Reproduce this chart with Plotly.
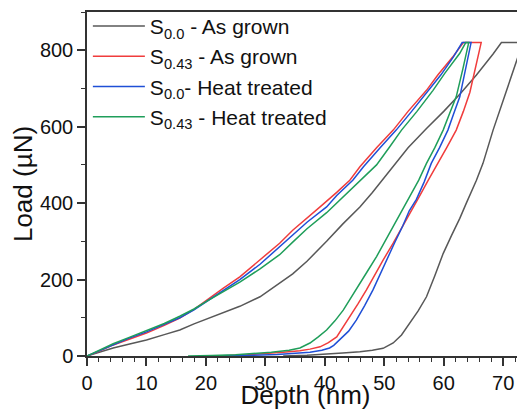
import plotly.graph_objects as go

# ---------------- data ----------------
names = [
    "S<sub>0.0</sub> - As grown",
    "S<sub>0.43</sub> - As grown",
    "S<sub>0.0</sub>- Heat treated",
    "S<sub>0.43</sub> - Heat treated",
]
colors = ["#585858", "#f03c3c", "#1f4fd6", "#1f9e5a"]

# S0.0 - As grown
g_depth_load = [0, 2, 4.4, 7, 10, 13, 15.6, 18, 21.2, 23.5, 25.7, 29.1, 32.4, 34.6, 37, 38.6,
                40.3, 43, 45.9, 48, 51.5, 54, 57.1, 60, 62.7, 65.5, 68.3, 69.7]
g_load_load = [0, 10, 21, 31, 42, 56, 68, 84, 103, 116, 130, 155, 190, 215, 248, 272,
               300, 345, 390, 428, 495, 545, 595, 640, 685, 735, 790, 820]
g_depth_unload = [73.3, 71, 68.3, 66.6, 65.5, 63.8, 62.7, 61.3, 59.9, 58.5, 57.1, 55.7, 54.3,
                  52.9, 51.5, 50.5, 49.8, 48, 45.9, 43, 40.3, 37, 33]
g_load_unload = [820, 715, 591, 504, 460, 400, 360, 315, 268, 210, 155, 118, 85,
                 55, 34, 25, 20, 15, 11, 8, 5, 2, 0]

# S0.43 - As grown
r_depth_load = [0, 2, 4.4, 7, 10, 13, 15.6, 18, 20.1, 23, 25.7, 29.1, 32.4, 34.6, 37, 39.2,
                42, 44.2, 45.9, 48.7, 51.5, 54, 57.1, 59, 61.5, 63.3]
r_load_load = [0, 12, 29, 44, 60, 80, 99, 122, 146, 178, 207, 251, 295, 329, 360, 390,
               428, 460, 495, 545, 591, 640, 695, 735, 782, 820]
r_depth_unload = [66.3, 65.4, 64.4, 63.3, 62.1, 60.5, 58.8, 57.4, 56, 54.6, 53.1, 51.5, 49.8,
                  48.4, 47, 45.6, 44.2, 43, 42, 40.6, 39.2, 37.5, 35.8, 33, 30, 27, 24, 20]
r_load_unload = [820, 755, 690, 640, 591, 545, 500, 460, 420, 380, 340, 295, 251,
                 210, 173, 137, 103, 75, 50, 35, 24, 18, 14, 10, 6, 3, 1, 0]

# S0.0 - Heat treated
b_depth_load = [0, 2, 4.4, 7, 10, 13, 15.6, 18, 20.1, 23, 25.7, 29.1, 32.4, 34.6, 37, 40.3,
                42, 44.7, 46.5, 49.3, 52, 54.6, 57.5, 59.5, 61.6, 63.1]
b_load_load = [0, 13, 30, 46, 63, 82, 100, 121, 143, 172, 200, 240, 285, 316, 350, 390,
               420, 460, 495, 545, 591, 640, 695, 735, 782, 820]
b_depth_unload = [64.6, 63.6, 62.7, 61.7, 60.7, 59.3, 57.9, 56.7, 55.4, 54.2, 53.1, 51.7, 50.4,
                  49.3, 48.1, 46.7, 45.3, 44, 42.5, 41.5, 40.8, 39.5, 37.5, 35, 32, 28, 24, 20]
b_load_unload = [820, 745, 678, 635, 591, 545, 504, 455, 410, 380, 340, 295, 251,
                 210, 173, 132, 94, 65, 42, 28, 21, 15, 10, 7, 4, 2, 1, 0]

# S0.43 - Heat treated
n_depth_load = [0, 2, 4.4, 7, 10, 13, 15.6, 18, 20.1, 23, 25.7, 29.1, 32.4, 34.6, 37, 40.3,
                43, 45.9, 48.7, 50.8, 52.9, 55.5, 58.2, 60.2, 62.7, 63.7]
n_load_load = [0, 14, 32, 48, 66, 85, 104, 123, 143, 168, 193, 228, 265, 298, 333, 375,
               415, 456, 500, 545, 591, 640, 695, 740, 792, 820]
n_depth_unload = [64.2, 63.2, 62.1, 61, 59.9, 58.5, 57.1, 55.8, 54.4, 53.1, 51.5, 50.1, 48.7,
                  47.3, 45.9, 44.5, 43.1, 41.7, 40.3, 38.9, 37.5, 35.8, 34, 31, 28, 25, 21, 17]
n_load_unload = [820, 750, 678, 635, 591, 545, 504, 460, 420, 382, 340, 300, 260,
                 225, 190, 155, 120, 92, 68, 50, 34, 21, 15, 10, 6, 3, 1, 0]

x_ticks = [0, 10, 20, 30, 40, 50, 60, 70]
y_ticks = [0, 200, 400, 600, 800]

series = [
    (g_depth_load, g_load_load, g_depth_unload, g_load_unload),
    (r_depth_load, r_load_load, r_depth_unload, r_load_unload),
    (b_depth_load, b_load_load, b_depth_unload, b_load_unload),
    (n_depth_load, n_load_load, n_depth_unload, n_load_unload),
]

FONT = "Arial, Liberation Sans, sans-serif"

fig = go.Figure()
for i, (name, color, (dl, ll, du, lu)) in enumerate(zip(names, colors, series)):
    fig.add_trace(go.Scatter(
        x=list(dl) + list(du), y=list(ll) + list(lu),
        mode="lines", name=name, legendgroup=f"g{i}",
        line=dict(color=color, width=1.5),
    ))

# the page body adds an 8px offset, so the figure is 8px smaller and shifted
fig.update_layout(
    width=517, height=402,
    margin=dict(l=79, r=1, t=4, b=54, autoexpand=False),
    paper_bgcolor="white", plot_bgcolor="white",
    font=dict(family=FONT, color="#111111"),
    showlegend=True,
    legend=dict(
        x=0.002, y=1.018, xanchor="left", yanchor="top",
        bgcolor="rgba(0,0,0,0)", borderwidth=0,
        font=dict(size=21, family=FONT, color="#111111"),
        tracegroupgap=0, itemwidth=52,
    ),
    xaxis=dict(
        range=[0, 73.5], tickvals=x_ticks, ticktext=[str(v) for v in x_ticks],
        showgrid=False, zeroline=False, automargin=False,
        showline=True, linecolor="#333333", linewidth=1.5, mirror=True,
        ticks="outside", ticklen=8, tickwidth=1.5, tickcolor="#333333",
        minor=dict(dtick=2, ticks="outside", ticklen=4, tickwidth=1.2, tickcolor="#333333"),
        tickfont=dict(size=20, family=FONT, color="#111111"),
        title=dict(text="Depth (nm)", font=dict(size=26, family=FONT, color="#111111"), standoff=0),
    ),
    yaxis=dict(
        range=[0, 900], tickvals=y_ticks, ticktext=[str(v) for v in y_ticks],
        showgrid=False, zeroline=False, automargin=False,
        showline=True, linecolor="#333333", linewidth=1.5,
        ticks="outside", ticklen=8, tickwidth=1.5, tickcolor="#333333",
        minor=dict(dtick=100, ticks="outside", ticklen=4, tickwidth=1.2, tickcolor="#333333"),
        tickfont=dict(size=20, family=FONT, color="#111111"),
        title=dict(text="Load (µN)", font=dict(size=26, family=FONT, color="#111111"), standoff=6),
    ),
)

fig.write_html("out.html")
